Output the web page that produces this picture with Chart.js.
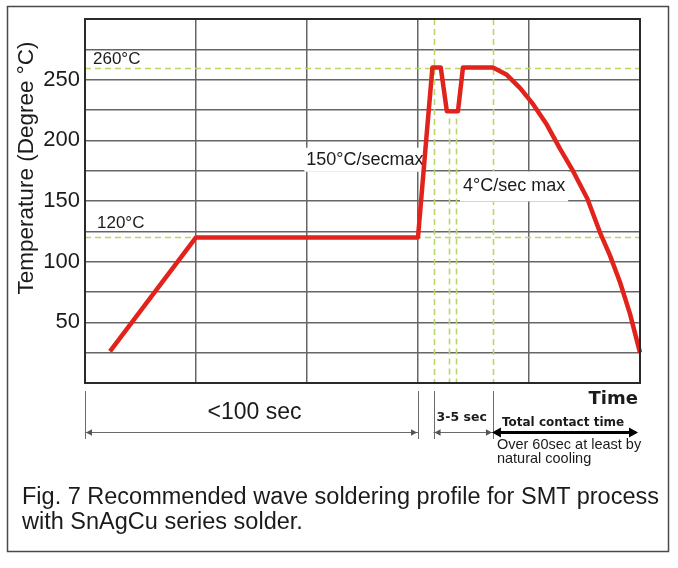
<!DOCTYPE html>
<html>
<head>
<meta charset="utf-8">
<script src="https://cdn.jsdelivr.net/npm/chart.js@4.4.1/dist/chart.umd.min.js"></script>
<style>
  html, body { margin: 0; padding: 0; background: #fff; }
  #wrap { position: relative; width: 678px; height: 568px; }
  #profile { position: absolute; left: 0; top: 0; }
  #caption {
    position: absolute; left: 22px; top: 484px;
    font: 23.5px "Liberation Sans", Arial, sans-serif; line-height: 24.5px;
    color: #1b1b1b; white-space: nowrap;
  }
</style>
</head>
<body>
<div id="wrap">
  <canvas id="profile" width="678" height="568"></canvas>
  <div id="caption">Fig. 7 Recommended wave soldering profile for SMT process<br>with SnAgCu series solder.</div>
</div>
<script>
// time (0-100 across the plot width) and temperature in °C
const timeVals = [4.5, 20, 60, 61.6, 62.6, 64.1, 65.2, 67.2, 68.1, 73.5, 76.0, 78.4, 80.7, 83.2, 85.6, 87.9, 90.5, 92.8, 94.6, 96.4, 98.2, 100];
const tempVals = [26, 120, 120, 207, 260, 260, 224, 224, 260, 260, 254, 243, 230, 213, 193, 175, 152, 124, 105, 83, 57, 25];
const yTickLabels = [50, 100, 150, 200, 250];

// reference (green dashed) lines
const refTemps = [260, 120];
const refTimesFull = [62.8, 73.5];
const refTimesDip = [65.6, 66.8];
const dipLineTop = 218;

// time spans marked under the axis
const spanBounds = [0, 60, 62.8, 73.5, 100];

const GREEN = '#b9d66a';
const TEXT = '#1b1b1b';
const GRID = '#666';

function arrowHead(ctx, x, y, dir, size) {
  ctx.beginPath();
  ctx.moveTo(x, y);
  ctx.lineTo(x - dir * size, y - size * 0.55);
  ctx.lineTo(x - dir * size, y + size * 0.55);
  ctx.closePath();
  ctx.fill();
}

const profilePlugin = {
  id: 'profileDecor',
  beforeDatasetsDraw(chart) {
    const { ctx, chartArea: a, scales: { x, y } } = chart;
    ctx.save();
    ctx.strokeStyle = GREEN;
    ctx.lineWidth = 1.6;
    ctx.setLineDash([6, 4]);
    refTemps.forEach(t => {
      const py = Math.round(y.getPixelForValue(t)) + 0.5;
      ctx.beginPath(); ctx.moveTo(a.left, py); ctx.lineTo(a.right, py); ctx.stroke();
    });
    refTimesFull.forEach(t => {
      const px = Math.round(x.getPixelForValue(t)) + 0.5;
      ctx.beginPath(); ctx.moveTo(px, a.top); ctx.lineTo(px, a.bottom); ctx.stroke();
    });
    refTimesDip.forEach(t => {
      const px = Math.round(x.getPixelForValue(t)) + 0.5;
      ctx.beginPath(); ctx.moveTo(px, y.getPixelForValue(dipLineTop)); ctx.lineTo(px, a.bottom); ctx.stroke();
    });
    ctx.setLineDash([]);

    // in-plot labels
    ctx.fillStyle = TEXT;
    ctx.textBaseline = 'alphabetic';
    ctx.textAlign = 'left';
    ctx.font = '17px "Liberation Sans", Arial, sans-serif';
    ctx.fillText('260°C', a.left + 8, y.getPixelForValue(260) - 4);
    ctx.fillText('120°C', a.left + 12, y.getPixelForValue(120) - 9);

    ctx.font = '18px "Liberation Sans", Arial, sans-serif';
    ctx.textBaseline = 'middle';
    let t = '150°C/secmax';
    let w = ctx.measureText(t).width;
    let rx = x.getPixelForValue(61), cy = y.getPixelForValue(184);
    ctx.fillStyle = '#fff';
    ctx.fillRect(rx - w - 2, cy - 12, w + 3, 24);
    ctx.fillStyle = TEXT;
    ctx.textAlign = 'right';
    ctx.fillText(t, rx, cy);

    t = '4°C/sec max';
    w = ctx.measureText(t).width;
    let lx = x.getPixelForValue(68.1); cy = y.getPixelForValue(162);
    ctx.fillStyle = '#fff';
    ctx.fillRect(lx - 3, cy - 15, w + 6, 30);
    ctx.fillStyle = TEXT;
    ctx.textAlign = 'left';
    ctx.fillText(t, lx, cy);
    ctx.restore();
  },
  afterDraw(chart) {
    const { ctx, chartArea: a, scales: { x } } = chart;
    ctx.save();
    // outer figure box
    ctx.strokeStyle = '#4a4a4a';
    ctx.lineWidth = 1.5;
    ctx.strokeRect(7.5, 6.5, 661, 545);
    // plot frame
    ctx.strokeStyle = '#2a2a2a';
    ctx.lineWidth = 2;
    ctx.strokeRect(a.left, a.top, a.right - a.left, a.bottom - a.top);

    // y title
    ctx.fillStyle = TEXT;
    ctx.font = '22.5px "Liberation Sans", Arial, sans-serif';
    ctx.textAlign = 'center';
    ctx.textBaseline = 'middle';
    ctx.translate(27, 168);
    ctx.rotate(-Math.PI / 2);
    ctx.fillText('Temperature (Degree °C)', 0, 0);
    ctx.setTransform(1, 0, 0, 1, 0, 0);

    // "Time"
    ctx.font = 'bold 18px "DejaVu Sans", sans-serif';
    ctx.textAlign = 'right';
    ctx.fillText('Time', a.right - 2, a.bottom + 16);

    // span marks under the axis
    const bx = spanBounds.map(v => x.getPixelForValue(v));
    const ay = a.bottom + 49.5;
    ctx.strokeStyle = '#6a6a6a';
    ctx.lineWidth = 1;
    bx.slice(0, 4).forEach(px => {
      const p = Math.round(px) + 0.5;
      ctx.beginPath(); ctx.moveTo(p, a.bottom + 8); ctx.lineTo(p, a.bottom + 56); ctx.stroke();
    });
    ctx.fillStyle = '#555';
    [[bx[0], bx[1]], [bx[2], bx[3]]].forEach(([l, r]) => {
      ctx.beginPath(); ctx.moveTo(l, ay); ctx.lineTo(r, ay); ctx.stroke();
      arrowHead(ctx, l + 1, ay, -1, 6);
      arrowHead(ctx, r - 1, ay, 1, 6);
    });
    ctx.strokeStyle = '#000';
    ctx.fillStyle = '#000';
    ctx.lineWidth = 3;
    ctx.beginPath(); ctx.moveTo(bx[3] + 4, ay); ctx.lineTo(bx[4] - 4, ay); ctx.stroke();
    arrowHead(ctx, bx[3] - 1, ay, -1, 9);
    arrowHead(ctx, bx[4] - 2, ay, 1, 9);

    ctx.fillStyle = TEXT;
    ctx.textBaseline = 'middle';
    ctx.textAlign = 'center';
    ctx.font = '23px "Liberation Sans", Arial, sans-serif';
    ctx.fillText('<100 sec', (bx[0] + bx[1]) / 2 + 3, a.bottom + 30);

    ctx.textAlign = 'left';
    ctx.font = 'bold 12.5px "DejaVu Sans", sans-serif';
    ctx.fillText('3-5 sec', bx[2] + 3, a.bottom + 35);
    ctx.font = 'bold 12px "DejaVu Sans", sans-serif';
    ctx.fillText('Total contact time', bx[3] + 9, a.bottom + 40);

    ctx.font = '14.5px "Liberation Sans", Arial, sans-serif';
    ctx.fillText('Over 60sec at least by', bx[3] + 4, a.bottom + 62);
    ctx.fillText('natural cooling', bx[3] + 4, a.bottom + 76);
    ctx.restore();
  }
};

const ctx = document.getElementById('profile').getContext('2d');
new Chart(ctx, {
  type: 'line',
  data: {
    datasets: [{
      data: timeVals.map((t, i) => ({ x: t, y: tempVals[i] })),
      borderColor: '#e2231c',
      borderWidth: 4.5,
      pointRadius: 0,
      tension: 0,
      fill: false,
      borderJoinStyle: 'round',
      clip: false
    }]
  },
  options: {
    responsive: false,
    animation: false,
    events: [],
    layout: { padding: { left: 0, top: 19, right: 38, bottom: 185 } },
    plugins: { legend: { display: false }, tooltip: { enabled: false } },
    scales: {
      x: {
        type: 'linear', min: 0, max: 100,
        ticks: { display: false, stepSize: 20 },
        grid: { color: GRID, lineWidth: 1.5, drawTicks: false },
        border: { display: false },
        afterFit(s) { s.height = 0; }
      },
      y: {
        type: 'linear', min: 0, max: 300,
        ticks: {
          stepSize: 25, padding: 5, autoSkip: false, color: TEXT,
          font: { family: 'Liberation Sans', size: 22 },
          callback: v => yTickLabels.includes(v) ? String(v) : ''
        },
        grid: { color: GRID, lineWidth: 1.5, drawTicks: false },
        border: { display: false },
        afterFit(s) { s.width = 85; }
      }
    }
  },
  plugins: [profilePlugin]
});
</script>
</body>
</html>
